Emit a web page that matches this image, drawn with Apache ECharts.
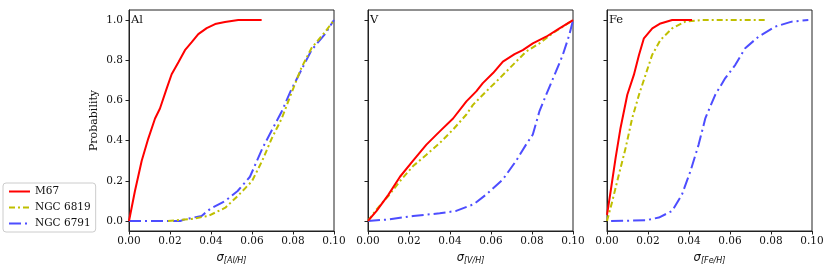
<!DOCTYPE html>
<html>
<head>
<meta charset="utf-8">
<script src="https://cdn.jsdelivr.net/npm/echarts@6/dist/echarts.min.js"></script>
<style>html,body{margin:0;padding:0;background:#fff}#c{width:831px;height:270px}</style>
</head>
<body>
<div id="c"></div>
<script>
// ---- data ----
const seriesNames = ['M67', 'NGC 6819', 'NGC 6791'];
const panelLabels = ['Al', 'V', 'Fe'];
const panelAxisSubs = ['[Al/H]', '[V/H]', '[Fe/H]'];
const xTicks = [0, 0.02, 0.04, 0.06, 0.08, 0.10];
const yTicks = [0, 0.2, 0.4, 0.6, 0.8, 1.0];

const alM67 = [[0,0],[0.0029,0.149],[0.0062,0.30],[0.0094,0.41],[0.0127,0.51],[0.0151,0.56],[0.0184,0.66],[0.0208,0.73],[0.0241,0.79],[0.0273,0.85],[0.0306,0.89],[0.0338,0.93],[0.0379,0.96],[0.042,0.98],[0.0468,0.99],[0.0533,1.0],[0.0647,1.0]];
const alN6819 = [[0.019,0],[0.0306,0.01],[0.0387,0.025],[0.047,0.066],[0.053,0.124],[0.06,0.198],[0.065,0.30],[0.0696,0.41],[0.0745,0.51],[0.079,0.63],[0.084,0.76],[0.089,0.86],[0.0956,0.94],[0.1,1.0]];
const alN6791 = [[0,0],[0.025,0],[0.0273,0.008],[0.0354,0.025],[0.040,0.063],[0.047,0.10],[0.053,0.149],[0.059,0.22],[0.065,0.36],[0.0696,0.45],[0.0745,0.545],[0.079,0.65],[0.084,0.75],[0.089,0.85],[0.0956,0.93],[0.1,1.0]];

const vM67 = [[0,0],[0.0042,0.05],[0.0099,0.13],[0.0156,0.22],[0.022,0.30],[0.0285,0.38],[0.035,0.446],[0.0415,0.51],[0.048,0.595],[0.0528,0.645],[0.056,0.686],[0.061,0.736],[0.0658,0.793],[0.0715,0.83],[0.0755,0.85],[0.0804,0.884],[0.0869,0.917],[0.0934,0.959],[0.1,1.0]];
const vN6819 = [[0,0],[0.0042,0.058],[0.0099,0.124],[0.0156,0.198],[0.022,0.273],[0.0285,0.33],[0.035,0.388],[0.0415,0.455],[0.048,0.53],[0.0512,0.578],[0.0577,0.645],[0.0642,0.71],[0.0707,0.777],[0.0771,0.843],[0.0836,0.884],[0.0901,0.934],[0.1,1.0]];
const vN6791 = [[0,0],[0.0107,0.008],[0.022,0.025],[0.035,0.038],[0.043,0.05],[0.0515,0.083],[0.0577,0.132],[0.0658,0.207],[0.0723,0.30],[0.0771,0.38],[0.0804,0.43],[0.0836,0.545],[0.0869,0.628],[0.0917,0.744],[0.095,0.826],[0.0982,0.926],[0.1,1.0]];

const feM67 = [[0,0.03],[0.0018,0.149],[0.0042,0.314],[0.0066,0.463],[0.0099,0.628],[0.0131,0.727],[0.0156,0.826],[0.018,0.909],[0.0221,0.959],[0.0261,0.983],[0.0318,1.0],[0.0415,1.0]];
const feN6819 = [[0,0],[0.0026,0.099],[0.0058,0.231],[0.0091,0.364],[0.0123,0.512],[0.0156,0.628],[0.0188,0.727],[0.022,0.826],[0.0261,0.901],[0.0318,0.959],[0.0382,0.992],[0.0464,1.0],[0.078,1.0]];
const feN6791 = [[0.002,0],[0.0188,0.003],[0.0253,0.017],[0.0318,0.05],[0.0366,0.132],[0.0407,0.248],[0.0447,0.38],[0.048,0.512],[0.0528,0.628],[0.0577,0.711],[0.0626,0.777],[0.0674,0.86],[0.0739,0.917],[0.082,0.967],[0.0901,0.992],[0.0982,1.0]];

const panelData = [[alM67, alN6819, alN6791], [vM67, vN6819, vN6791], [feM67, feN6819, feN6791]];

// ---- styles ----
const colors = ['#ff0000', '#bfbf00', '#4d4dff'];
const dashes = ['solid', [6, 3, 2, 3], [12, 4, 2, 4]];
const lefts = [129, 368, 607];
const serif = 'DejaVu Serif';

const grids = [], xAxes = [], yAxes = [], series = [], graphics = [];
for (let p = 0; p < 3; p++) {
  grids.push({left: lefts[p], top: 10, width: 205, height: 221, show: true, borderColor: '#222', borderWidth: 1, backgroundColor: 'transparent'});
  xAxes.push({
    gridIndex: p, type: 'value', min: 0, max: 0.1, interval: 0.02,
    axisLine: {show: true, onZero: false, lineStyle: {color: '#222', width: 1}},
    axisTick: {show: true, length: 3.5, lineStyle: {color: '#222'}},
    splitLine: {show: false},
    axisLabel: {fontFamily: serif, fontSize: 10.5, color: '#111', margin: 5, showMaxLabel: true, showMinLabel: true,
      formatter: v => v.toFixed(2)},
    name: '{s|σ}{sub|' + panelAxisSubs[p] + '}', nameLocation: 'middle', nameGap: 19,
    nameTextStyle: {rich: {
      s: {fontFamily: 'DejaVu Sans', fontStyle: 'italic', fontSize: 11.5, color: '#111'},
      sub: {fontFamily: 'DejaVu Sans', fontStyle: 'italic', fontSize: 8, color: '#111', padding: [6, 0, 0, 0]}
    }}
  });
  yAxes.push({
    gridIndex: p, type: 'value', min: -0.05, max: 1.05,
    axisLine: {show: true, onZero: false, lineStyle: {color: '#222', width: 1}},
    axisTick: {show: true, length: 3.5, lineStyle: {color: '#222'}, customValues: yTicks},
    splitLine: {show: false},
    axisLabel: {show: p === 0, fontFamily: serif, fontSize: 10.5, color: '#111', margin: 6, customValues: yTicks,
      formatter: v => v.toFixed(1)},
    name: p === 0 ? 'Probability' : '', nameLocation: 'middle', nameGap: 29,
    nameTextStyle: {fontFamily: serif, fontSize: 11, color: '#111'}
  });
  for (let s = 0; s < 3; s++) {
    series.push({
      name: seriesNames[s], type: 'line', xAxisIndex: p, yAxisIndex: p,
      data: panelData[p][s], showSymbol: false, symbol: 'none', smooth: false,
      lineStyle: {color: colors[s], width: 2, type: dashes[s]},
      itemStyle: {color: colors[s]}, z: 5 - s, animation: false
    });
  }
  graphics.push({type: 'text', left: lefts[p] + 2, top: 14,
    style: {text: panelLabels[p], font: '11.5px "DejaVu Serif"', fill: '#111'}});
}

const chart = echarts.init(document.getElementById('c'), null, {renderer: 'canvas'});
chart.setOption({
  animation: false,
  backgroundColor: '#fff',
  grid: grids, xAxis: xAxes, yAxis: yAxes, series: series, graphic: graphics,
  legend: {
    show: true,
    data: seriesNames, orient: 'vertical', left: 3, top: 183,
    itemWidth: 21, itemHeight: 10, itemGap: 5,
    backgroundColor: '#fff', borderColor: '#ccc', borderWidth: 1, borderRadius: 3,
    padding: [3, 5, 3, 5],
    itemStyle: {opacity: 0, borderWidth: 0},
    textStyle: {fontFamily: serif, fontSize: 10.5, color: '#111'}
  }
});
</script>
</body>
</html>
